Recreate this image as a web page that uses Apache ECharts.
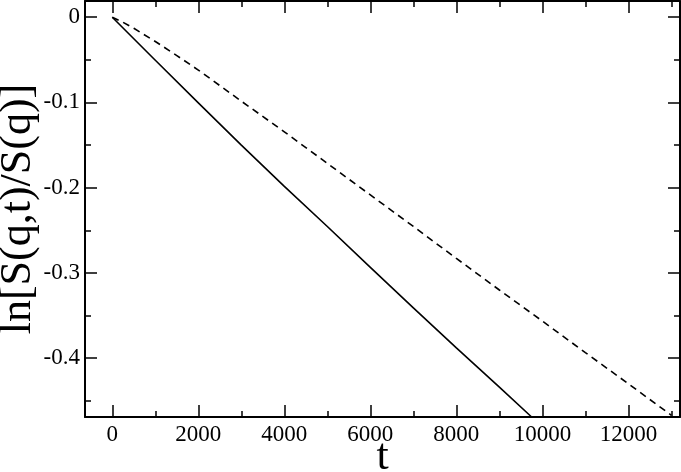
<!DOCTYPE html>
<html>
<head>
<meta charset="utf-8">
<script src="https://cdn.jsdelivr.net/npm/echarts@6/dist/echarts.min.js"></script>
<style>
html,body{margin:0;padding:0;background:#fff;}
#chart{width:681px;height:472px;}
</style>
</head>
<body>
<div id="chart"></div>
<script>
// Solid curve
var tSolid = [0, 1000, 2000, 3000, 4000, 5000, 6000, 7000, 8000, 9000, 9750];
var ySolid = [0, -0.0505, -0.1005, -0.1500, -0.1985, -0.2455, -0.2935, -0.3410, -0.3880, -0.4340, -0.4690];
// Dashed curve
var tDashed = [0, 250, 500, 1000, 1500, 2000, 3000, 4000, 5000, 6000, 7000, 8000, 9000, 10000, 11000, 12000, 13000];
var yDashed = [0, -0.0060, -0.0130, -0.0285, -0.0450, -0.0620, -0.0985, -0.1345, -0.1715, -0.2085, -0.2455, -0.2830, -0.3200, -0.3565, -0.3935, -0.4300, -0.4670];
// Axis ticks
var xMajor = [0, 2000, 4000, 6000, 8000, 10000, 12000];
var xMinor = [1000, 3000, 5000, 7000, 9000, 11000, 13000];
var yMajor = [-0.4, -0.3, -0.2, -0.1, 0];
var yMinor = [-0.45, -0.35, -0.25, -0.15, -0.05];

function pairs(xs, ys){ return xs.map(function(x,i){return [x, ys[i]];}); }
function plain(v){ return String(v); }

var FONT = '"Liberation Serif", "DejaVu Serif", serif';
var XMIN = -635, XMAX = 13200, YMIN = -0.469, YMAX = 0.019;

function xAxisDef(pos, ticks, len, showLabel, showLine, name){
  var a = {
    type: 'value', position: pos, min: XMIN, max: XMAX,
    axisLine: {show: showLine, onZero: false, lineStyle: {color: '#000', width: 2}},
    axisTick: {show: true, inside: true, length: len, customValues: ticks, lineStyle: {color: '#000', width: 1.5}},
    axisLabel: {show: showLabel, customValues: ticks, formatter: plain, color: '#000', fontFamily: FONT, fontSize: 23, margin: 6},
    splitLine: {show: false}
  };
  if (name) {
    a.name = name; a.nameLocation = 'middle'; a.nameGap = 18; a.nameMoveOverlap = false;
    a.nameTextStyle = {color: '#000', fontFamily: FONT, fontSize: 44, lineHeight: 44};
  }
  return a;
}
function yAxisDef(pos, ticks, len, showLabel, showLine, name){
  var a = {
    type: 'value', position: pos, min: YMIN, max: YMAX,
    axisLine: {show: showLine, onZero: false, lineStyle: {color: '#000', width: 2}},
    axisTick: {show: true, inside: true, length: len, customValues: ticks, lineStyle: {color: '#000', width: 1.5}},
    axisLabel: {show: showLabel, customValues: ticks, formatter: plain, color: '#000', fontFamily: FONT, fontSize: 23, margin: 5},
    splitLine: {show: false}
  };
  if (name) {
    a.name = name; a.nameLocation = 'middle'; a.nameGap = 45; a.nameMoveOverlap = false;
    a.nameTextStyle = {color: '#000', fontFamily: FONT, fontSize: 44};
  }
  return a;
}

var chart = echarts.init(document.getElementById('chart'), null, {renderer: 'canvas'});
chart.setOption({
  animation: false,
  backgroundColor: '#fff',
  grid: {left: 85, right: 1, top: 1, bottom: 55, containLabel: false, outerBoundsMode: 'none'},
  xAxis: [
    xAxisDef('bottom', xMajor, 12, true, true, 't'),
    xAxisDef('bottom', xMinor, 6, false, false),
    xAxisDef('top', xMajor, 12, false, true),
    xAxisDef('top', xMinor, 6, false, false)
  ],
  yAxis: [
    yAxisDef('left', yMajor, 12, true, true, 'ln[S(q,t)/S(q)]'),
    yAxisDef('left', yMinor, 6, false, false),
    yAxisDef('right', yMajor, 12, false, true),
    yAxisDef('right', yMinor, 6, false, false)
  ],
  series: [
    {type: 'line', xAxisIndex: 0, yAxisIndex: 0, data: pairs(tSolid, ySolid), showSymbol: false, symbol: 'none', clip: true,
     lineStyle: {color: '#000', width: 1.6, type: 'solid'}},
    {type: 'line', xAxisIndex: 0, yAxisIndex: 0, data: pairs(tDashed, yDashed), showSymbol: false, symbol: 'none', clip: true,
     lineStyle: {color: '#000', width: 1.6, type: [7, 5]}}
  ]
});
</script>
</body>
</html>
